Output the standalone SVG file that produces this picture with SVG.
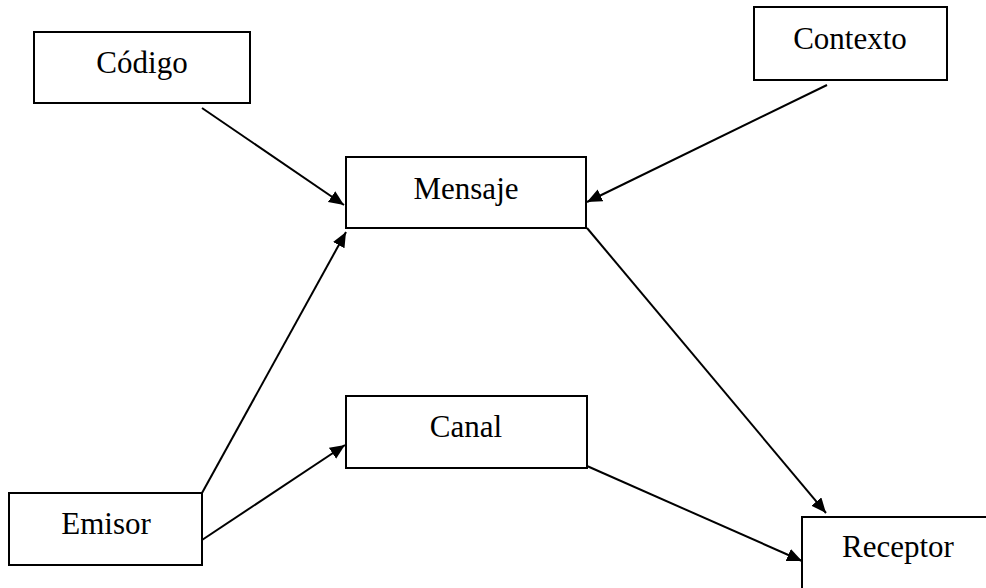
<svg xmlns="http://www.w3.org/2000/svg" width="986" height="588" viewBox="0 0 986 588">
<style>
.box{fill:#fff;stroke:#000;stroke-width:2}
.lbl{font-family:"Liberation Serif","Times New Roman",serif;font-size:31px;fill:#000;text-anchor:middle}
.edge{stroke:#000;stroke-width:2;fill:none;marker-end:url(#arr)}
</style>
<defs>
<marker id="arr" markerUnits="userSpaceOnUse" markerWidth="16" markerHeight="14" refX="15" refY="6.5" orient="auto">
<path d="M0,0 L15,6.5 L0,13 z" fill="#000"/>
</marker>
</defs>
<rect width="986" height="588" fill="#fff"/>
<g id="connectors">
<line class="edge" x1="202" y1="108" x2="344" y2="205"/>
<line class="edge" x1="827" y1="85" x2="587" y2="202"/>
<line class="edge" x1="202" y1="493" x2="346" y2="232"/>
<line class="edge" x1="202" y1="540" x2="345" y2="445"/>
<line class="edge" x1="587" y1="466" x2="802" y2="561"/>
<line class="edge" x1="587" y1="228" x2="826" y2="513"/>
</g>
<g id="codigo"><rect class="box" x="34" y="32" width="216" height="71"/><text class="lbl" x="142" y="73">Código</text></g>
<g id="contexto"><rect class="box" x="754" y="7" width="193" height="73"/><text class="lbl" x="850" y="49">Contexto</text></g>
<g id="mensaje"><rect class="box" x="346" y="157" width="240" height="71"/><text class="lbl" x="466" y="199">Mensaje</text></g>
<g id="canal"><rect class="box" x="346" y="396" width="241" height="72"/><text class="lbl" x="466" y="437">Canal</text></g>
<g id="emisor"><rect class="box" x="9" y="493" width="193" height="72"/><text class="lbl" x="106" y="534">Emisor</text></g>
<g id="receptor"><rect class="box" x="802" y="517" width="200" height="90"/><text class="lbl" x="898" y="557">Receptor</text></g>
</svg>
